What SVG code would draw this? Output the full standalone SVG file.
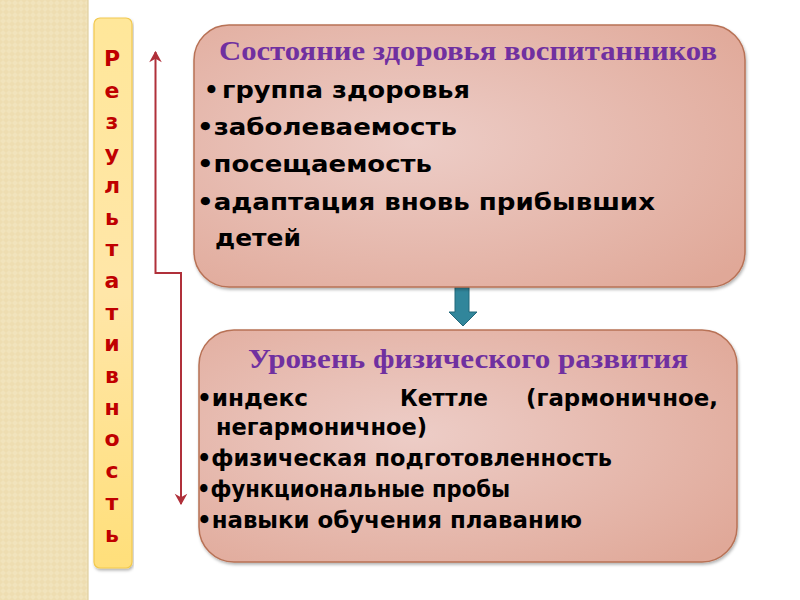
<svg xmlns="http://www.w3.org/2000/svg" width="800" height="600" viewBox="0 0 800 600">
<defs>
  <pattern id="weave" width="6" height="6" patternUnits="userSpaceOnUse">
    <rect width="6" height="6" fill="#EEDDB1"/>
    <path d="M0,3 L3,0 L6,3 L3,6 Z" fill="#F1E3BC"/>
  </pattern>
  <linearGradient id="yel" x1="0" y1="0" x2="0" y2="1">
    <stop offset="0" stop-color="#FFE79A"/>
    <stop offset="0.5" stop-color="#FFE6A8"/>
    <stop offset="1" stop-color="#FFDF7A"/>
  </linearGradient>
  <radialGradient id="pink" cx="0.4" cy="0.45" r="0.75">
    <stop offset="0" stop-color="#EDCDC7"/>
    <stop offset="1" stop-color="#E0A898"/>
  </radialGradient>
  <filter id="sh" x="-5%" y="-5%" width="110%" height="115%">
    <feDropShadow dx="1" dy="2" stdDeviation="1.5" flood-color="#000" flood-opacity="0.3"/>
  </filter>
  <marker id="ah" viewBox="0 0 10 14" refX="9" refY="7" markerWidth="6" markerHeight="8" orient="auto-start-reverse" markerUnits="strokeWidth">
    <path d="M0,1.5 L10,7 L0,12.5 L3,7 Z" fill="#B0303A"/>
  </marker>
  <style>
    .box{fill:url(#pink);stroke:#B87256;stroke-width:1.5;filter:url(#sh)}
    .ttl{font-family:"Liberation Serif","Times New Roman",serif;font-weight:bold;font-size:28px;fill:#7030A0;text-anchor:middle}
    .bl{font-family:"DejaVu Sans","Verdana",sans-serif;font-weight:bold;font-size:23px;fill:#000}
    .vl{font-family:"DejaVu Sans","Verdana",sans-serif;font-weight:bold;font-size:22px;fill:#C00000;text-anchor:middle}
    .con{fill:none;stroke:#B0303A;stroke-width:2}
  </style>
</defs>
<rect x="0" y="0" width="800" height="600" fill="#FFFFFF"/>
<rect x="0" y="0" width="88" height="600" fill="url(#weave)"/>
<rect x="87" y="0" width="2" height="600" fill="#E0CFA0" opacity="0.6"/>

<g id="side-label">
  <rect x="94" y="18" width="38" height="550" rx="6" fill="url(#yel)" stroke="#F2C94E" stroke-width="1.2" filter="url(#sh)"/>
  <text class="vl" x="112" y="66">Р<tspan x="112" dy="31.7">е</tspan><tspan x="112" dy="31.7">з</tspan><tspan x="112" dy="31.7">у</tspan><tspan x="112" dy="31.7">л</tspan><tspan x="112" dy="31.7">ь</tspan><tspan x="112" dy="31.7">т</tspan><tspan x="112" dy="31.7">а</tspan><tspan x="112" dy="31.7">т</tspan><tspan x="112" dy="31.7">и</tspan><tspan x="112" dy="31.7">в</tspan><tspan x="112" dy="31.7">н</tspan><tspan x="112" dy="31.7">о</tspan><tspan x="112" dy="31.7">с</tspan><tspan x="112" dy="31.7">т</tspan><tspan x="112" dy="31.7">ь</tspan></text>
</g>

<g id="connectors">
  <path class="con" d="M155.5,52 L155.5,273 L181,273 L181,504" marker-start="url(#ah)" marker-end="url(#ah)"/>
  <path d="M455,287 L469,287 L469,312 L477,312 L463,326 L449,312 L455,312 Z" fill="#31869B" stroke="#23687B" stroke-width="1"/>
</g>

<g id="health">
  <rect class="box" x="194" y="25" width="551" height="262" rx="35"/>
  <text class="ttl" x="468" y="60" textLength="498" lengthAdjust="spacingAndGlyphs">Состояние здоровья воспитанников</text>
  <text class="bl" x="204" y="98" font-size="16">•</text>
  <text class="bl" x="222" y="98" textLength="248" lengthAdjust="spacingAndGlyphs">группа здоровья</text>
  <text class="bl" x="197" y="135" textLength="260" lengthAdjust="spacingAndGlyphs">•заболеваемость</text>
  <text class="bl" x="197" y="172" textLength="235" lengthAdjust="spacingAndGlyphs">•посещаемость</text>
  <text class="bl" x="197" y="210" textLength="458" lengthAdjust="spacingAndGlyphs">•адаптация вновь прибывших</text>
  <text class="bl" x="215" y="246" textLength="86" lengthAdjust="spacingAndGlyphs">детей</text>
</g>

<g id="physical">
  <rect class="box" x="199" y="330" width="538" height="232" rx="35"/>
  <text class="ttl" x="468" y="368" textLength="440" lengthAdjust="spacingAndGlyphs">Уровень физического развития</text>
  <text class="bl" x="197" y="406" textLength="111" lengthAdjust="spacingAndGlyphs">•индекс</text>
  <text class="bl" x="400" y="406" textLength="88" lengthAdjust="spacingAndGlyphs">Кеттле</text>
  <text class="bl" x="526" y="406" textLength="192" lengthAdjust="spacingAndGlyphs">(гармоничное,</text>
  <text class="bl" x="216" y="435" textLength="211" lengthAdjust="spacingAndGlyphs">негармоничное)</text>
  <text class="bl" x="197" y="466" textLength="415" lengthAdjust="spacingAndGlyphs">•физическая подготовленность</text>
  <text class="bl" x="197" y="497" textLength="313" lengthAdjust="spacingAndGlyphs">•функциональные пробы</text>
  <text class="bl" x="197" y="528" textLength="385" lengthAdjust="spacingAndGlyphs">•навыки обучения  плаванию</text>
</g>
</svg>
